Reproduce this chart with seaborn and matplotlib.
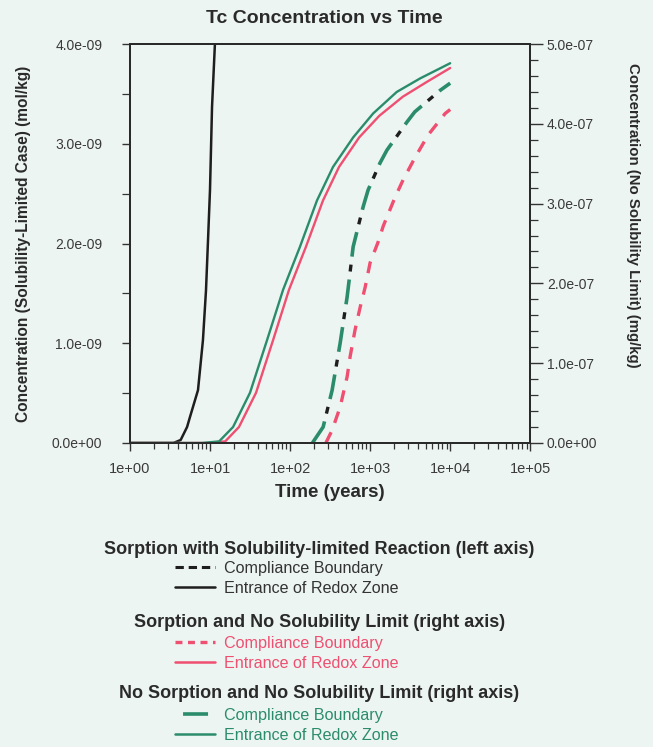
import numpy as np
import pandas as pd
import seaborn as sns
import matplotlib
matplotlib.use("Agg")
import matplotlib.pyplot as plt
from matplotlib.lines import Line2D
from matplotlib.ticker import MultipleLocator, LogLocator, NullFormatter

sns.set_theme(style="ticks")
plt.rcParams["font.family"] = ["Liberation Sans", "DejaVu Sans"]
plt.rcParams["lines.scale_dashes"] = False

# ---------------- data ----------------
# Sorption with solubility-limited reaction (left axis, mol/kg)
t_black_solid = [1, 3.5, 4.3, 5.17, 5.62, 7.08, 8.16, 8.91, 9.44, 10.0, 10.6, 11.5, 12.5]
c_black_solid = [0, 0, 0.03e-9, 0.16e-9, 0.26e-9, 0.53e-9, 1.03e-9, 1.53e-9,
                 2.03e-9, 2.54e-9, 3.37e-9, 3.99e-9, 4.6e-9]
t_black_dash = [190, 259, 335, 422, 516, 614, 818, 943, 1330, 1620, 2870, 3610, 7500, 10000]
c_black_dash = [0, 0.16e-9, 0.528e-9, 1.0e-9, 1.464e-9, 1.968e-9, 2.368e-9, 2.536e-9,
                2.808e-9, 2.936e-9, 3.216e-9, 3.32e-9, 3.536e-9, 3.608e-9]

# Sorption and no solubility limit (right axis, mg/kg)
t_pink_solid = [1, 9.5, 15.5, 23, 37.6, 61.4, 97, 158, 258, 409, 730, 1300, 2560, 5000, 10000]
c_pink_solid = [0, 0, 0.02e-7, 0.20e-7, 0.63e-7, 1.29e-7, 1.92e-7, 2.46e-7, 3.04e-7,
                3.46e-7, 3.83e-7, 4.10e-7, 4.34e-7, 4.52e-7, 4.70e-7]
t_pink_dash = [280, 335, 422, 516, 562, 649, 750, 866, 1000, 1260, 1460, 2050, 2590,
               3650, 5300, 8660, 10000]
c_pink_dash = [0, 0.16e-7, 0.45e-7, 0.83e-7, 1.08e-7, 1.42e-7, 1.70e-7, 1.95e-7, 2.26e-7,
               2.52e-7, 2.72e-7, 3.08e-7, 3.30e-7, 3.58e-7, 3.86e-7, 4.13e-7, 4.18e-7]

# No sorption and no solubility limit (right axis, mg/kg)
t_green_solid = [1, 8, 13, 19.4, 31.6, 51.6, 81.8, 133, 217, 344, 614, 1090, 2150, 4220, 10000]
c_green_solid = [0, 0, 0.02e-7, 0.20e-7, 0.63e-7, 1.29e-7, 1.92e-7, 2.46e-7, 3.04e-7,
                 3.46e-7, 3.83e-7, 4.13e-7, 4.40e-7, 4.57e-7, 4.76e-7]
t_green_dash = [190, 259, 335, 422, 516, 614, 818, 943, 1330, 1620, 2870, 3610, 7500, 10000]
c_green_dash = [0, 0.20e-7, 0.66e-7, 1.25e-7, 1.83e-7, 2.46e-7, 2.96e-7, 3.17e-7,
                3.51e-7, 3.67e-7, 4.02e-7, 4.15e-7, 4.42e-7, 4.51e-7]

x_ticks = [1, 10, 100, 1000, 10000, 100000]
x_ticklabels = ["1e+00", "1e+01", "1e+02", "1e+03", "1e+04", "1e+05"]
yl_ticks = [0, 1e-9, 2e-9, 3e-9, 4e-9]
yl_ticklabels = ["0.0e+00", "1.0e-09", "2.0e-09", "3.0e-09", "4.0e-09"]
yr_ticks = [0, 1e-7, 2e-7, 3e-7, 4e-7, 5e-7]
yr_ticklabels = ["0.0e+00", "1.0e-07", "2.0e-07", "3.0e-07", "4.0e-07", "5.0e-07"]

group_titles = ["Sorption with Solubility-limited Reaction (left axis)",
                "Sorption and No Solubility Limit (right axis)",
                "No Sorption and No Solubility Limit (right axis)"]
entry_labels = ["Compliance Boundary", "Entrance of Redox Zone"]

# ---------------- style ----------------
BG = "#edf5f3"
BLACK = "#1e1e1e"
PINK = "#ef4f70"
GREEN = "#2b8c6b"
TXT = "#2a2a2a"

fig = plt.figure(figsize=(6.53, 7.47), dpi=100, facecolor=BG)
ax = fig.add_axes([0.199, 0.407, 0.613, 0.534])
ax.set_facecolor(BG)
ax.set_xscale("log")
ax2 = ax.twinx()
ax2.set_xscale("log")

# dash patterns (points)
green_dash = (0, (18, 16.6))
black_dash = (10.8, (5, 29.6))
pink_dash = (0, (8.6, 7.2))

# left axis series
sns.lineplot(x=t_black_solid, y=c_black_solid, ax=ax, color=BLACK, lw=1.8,
             errorbar=None, sort=False)
sns.lineplot(x=t_black_dash, y=c_black_dash, ax=ax, color=BLACK, lw=2.4,
             errorbar=None, sort=False, linestyle=black_dash, dash_capstyle="butt")

# right axis series
sns.lineplot(x=t_pink_dash, y=c_pink_dash, ax=ax2, color=PINK, lw=2.4,
             errorbar=None, sort=False, linestyle=pink_dash, dash_capstyle="butt")
sns.lineplot(x=t_green_dash, y=c_green_dash, ax=ax2, color=GREEN, lw=2.6,
             errorbar=None, sort=False, linestyle=green_dash, dash_capstyle="butt")
sns.lineplot(x=t_pink_solid, y=c_pink_solid, ax=ax2, color=PINK, lw=1.7,
             errorbar=None, sort=False)
sns.lineplot(x=t_green_solid, y=c_green_solid, ax=ax2, color=GREEN, lw=1.7,
             errorbar=None, sort=False)

# axes limits / ticks
ax.set_xlim(1, 1e5)
ax.set_ylim(0, 4e-9)
ax2.set_ylim(0, 5e-7)

ax.set_xticks(x_ticks)
ax.set_xticklabels(x_ticklabels)
ax.xaxis.set_minor_locator(LogLocator(base=10, subs=np.arange(2, 10)))
ax.xaxis.set_minor_formatter(NullFormatter())
ax.set_yticks(yl_ticks)
ax.set_yticklabels(yl_ticklabels)
ax.yaxis.set_minor_locator(MultipleLocator(0.5e-9))
ax2.set_yticks(yr_ticks)
ax2.set_yticklabels(yr_ticklabels)
ax2.yaxis.set_minor_locator(MultipleLocator(0.2e-7))

for a in (ax, ax2):
    for s in a.spines.values():
        s.set_color("#2a2a2a")
        s.set_linewidth(1.4)
ax.tick_params(axis="x", which="major", direction="out", length=6, width=1,
               colors="#333333", labelsize=10.5, labelcolor="#3a3a3a", pad=8)
ax.tick_params(axis="y", which="major", direction="out", length=6, width=1,
               colors="#333333", labelsize=10, labelcolor="#3a3a3a", pad=14)
ax.tick_params(axis="x", which="minor", direction="out", length=4, width=0.9,
               colors="#333333")
ax.tick_params(axis="y", which="minor", direction="out", length=6, width=0.9,
               colors="#333333")
ax2.tick_params(axis="y", which="major", direction="out", length=9, width=1,
                colors="#333333", labelsize=10, labelcolor="#3a3a3a", pad=3)
ax2.tick_params(axis="y", which="minor", direction="out", length=6, width=0.9,
                colors="#333333")

ax.set_xlabel("Time (years)", fontsize=13.5, fontweight="bold", color=TXT)
ax.xaxis.set_label_coords(0.5, -0.103)
ax.set_ylabel("Concentration (Solubility-Limited Case) (mol/kg)", fontsize=11.2,
              fontweight="bold", color=TXT)
ax.yaxis.set_label_coords(-0.248, 0.5)
ax2.set_ylabel("Concentration (No Solubility Limit) (mg/kg)", fontsize=10.8,
               fontweight="bold", color=TXT, rotation=270, va="bottom")
ax2.yaxis.set_label_coords(1.24, 0.571)

for a in (ax, ax2):
    lg = a.get_legend()
    if lg is not None:
        lg.remove()

fig.text(0.497, 0.975, "Tc Concentration vs Time", ha="center", va="center",
         fontsize=14, fontweight="bold", color=TXT)

# ---------------- grouped legend ----------------
header_y = [1 - 549.5 / 747, 1 - 622.5 / 747, 1 - 693.5 / 747]
legend_top = [1 - 561 / 747, 1 - 636 / 747, 1 - 708 / 747]
group_colors = [BLACK, PINK, GREEN]
group_dash_styles = [(0, (6, 3.5)), (0, (5, 4)), (42.2, (18, 30))]
group_dash_lw = [2.2, 2.4, 2.6]

for i in range(3):
    fig.text(0.489, header_y[i], group_titles[i], ha="center", va="center",
             fontsize=13, fontweight="bold", color=TXT)
    handles = [Line2D([], [], color=group_colors[i], lw=group_dash_lw[i],
                      linestyle=group_dash_styles[i], dash_capstyle="butt"),
               Line2D([], [], color=group_colors[i], lw=1.8)]
    fig.legend(handles, entry_labels, loc="upper left",
               bbox_to_anchor=(0.268, legend_top[i]), bbox_transform=fig.transFigure,
               frameon=False, borderpad=0, borderaxespad=0, handlelength=2.5,
               handletextpad=0.55, labelspacing=0.3, fontsize=11.6,
               labelcolor=group_colors[i] if i else "#333333")

fig.savefig("out.png", dpi=100, facecolor=BG)
